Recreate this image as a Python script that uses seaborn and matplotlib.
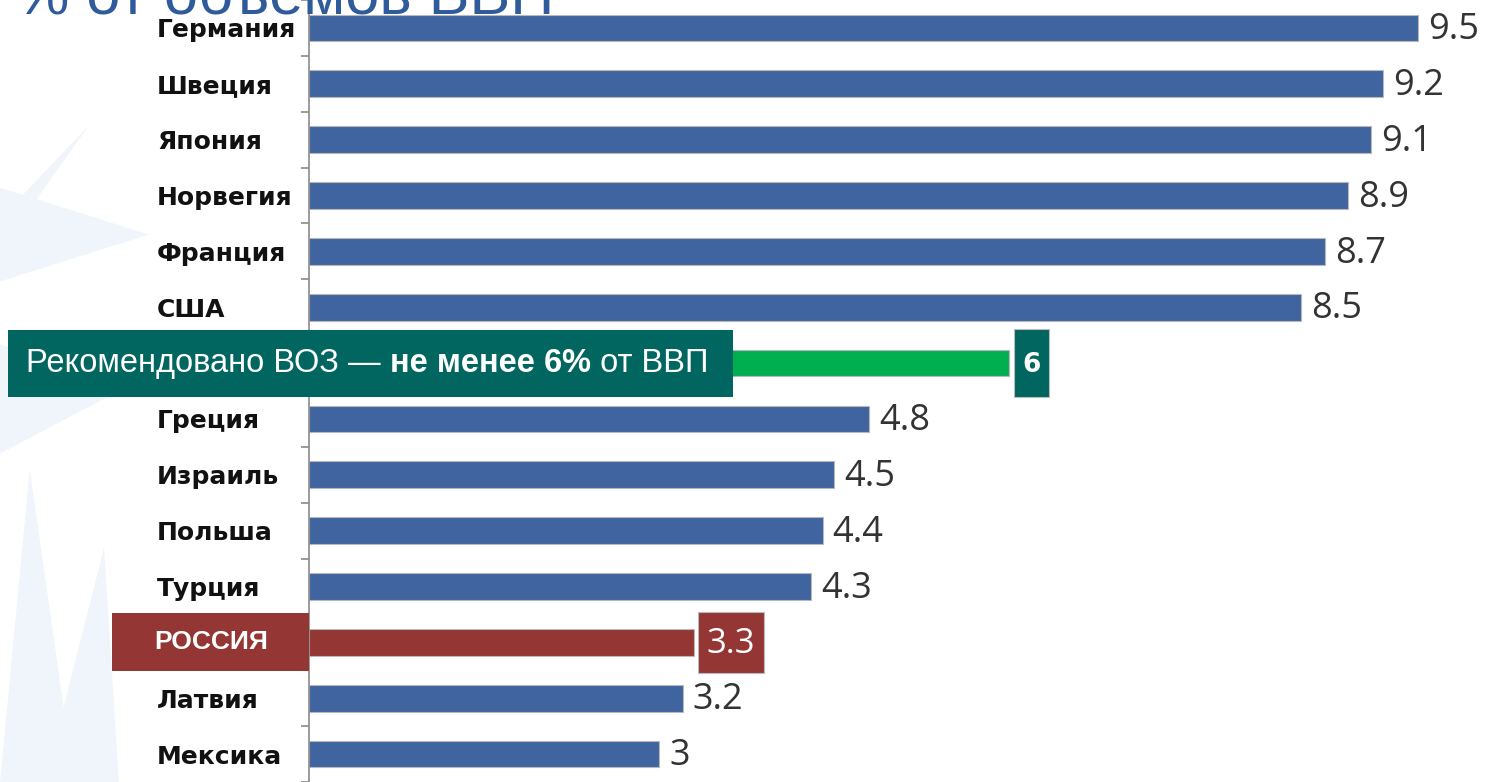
import numpy as np
import pandas as pd
import matplotlib
matplotlib.use('Agg')
import matplotlib.pyplot as plt
from matplotlib.patches import Rectangle, Polygon
import seaborn as sns

# data
countries = ['Германия', 'Швеция', 'Япония', 'Норвегия', 'Франция', 'США',
             'Рекомендовано ВОЗ', 'Греция', 'Израиль', 'Польша', 'Турция',
             'РОССИЯ', 'Латвия', 'Мексика']
values = [9.5, 9.2, 9.1, 8.9, 8.7, 8.5, 6, 4.8, 4.5, 4.4, 4.3, 3.3, 3.2, 3]
value_labels = ['9.5', '9.2', '9.1', '8.9', '8.7', '8.5', '6', '4.8', '4.5',
                '4.4', '4.3', '3.3', '3.2', '3']
title = '% от объемов ВВП'
who_parts = ['Рекомендовано ВОЗ — ', 'не менее 6%', ' от ВВП']

BLUE = '#3f64a0'
GREEN = '#00b050'
RED = '#943634'
TEAL = '#00665f'

colors = []
for c in countries:
    if c == 'РОССИЯ':
        colors.append(RED)
    elif c.startswith('Рекомендовано'):
        colors.append(GREEN)
    else:
        colors.append(BLUE)

df = pd.DataFrame({'country': countries, 'value': values})

sns.set_style('white')
plt.rcParams['font.family'] = ['DejaVu Sans']

fig = plt.figure(figsize=(14.87, 7.82), dpi=100)
fig.patch.set_facecolor('white')

# very faint starburst in the background on the left
rays = [
    [(0.0, 0.64), (0.10, 0.70), (0.0, 0.76)],
    [(0.0, 0.72), (0.06, 0.84), (0.015, 0.72)],
    [(0.0, 0.42), (0.08, 0.50), (0.0, 0.56)],
    [(0.0, 0.0), (0.02, 0.40), (0.05, 0.0)],
    [(0.03, 0.0), (0.07, 0.30), (0.08, 0.0)],
]
for r in rays:
    fig.patches.append(Polygon(r, closed=True, transform=fig.transFigure,
                               facecolor='#f0f5fb', edgecolor='none', zorder=-1))

ax = fig.add_axes([309 / 1487, 0, 1 - 309 / 1487, 1])
ax.set_facecolor('none')

sns.barplot(data=df, x='value', y='country', hue='country', palette=colors,
            legend=False, orient='h', width=0.48, saturation=1,
            edgecolor='#b8b8b8', linewidth=0.8, ax=ax)

ax.set_xlim(0, 10.09)
ax.set_ylim(13.48, -0.445)
ax.set_xlabel('')
ax.set_ylabel('')
ax.set_xticks([])

for s in ['top', 'right', 'bottom']:
    ax.spines[s].set_visible(False)
ax.spines['left'].set_color('#8a8a8a')
ax.spines['left'].set_linewidth(1.2)

# the two highlighted rows get their own label boxes below
tick_text = ['' if (c == 'РОССИЯ' or c.startswith('Рекомендовано')) else c
             for c in countries]
ax.set_yticks(range(len(countries)))
ax.set_yticklabels(tick_text)
ax.set_yticks(np.arange(-0.5, len(countries)), minor=True)
ax.tick_params(axis='y', which='major', length=0, pad=109.4, labelsize=18)
ax.tick_params(axis='y', which='minor', length=6, width=1.2, color='#8a8a8a', left=True)
for lab in ax.get_yticklabels():
    lab.set_horizontalalignment('left')
    lab.set_fontweight('bold')
    lab.set_color('#111111')

# value labels
for i, (v, lab) in enumerate(zip(values, value_labels)):
    if countries[i] == 'РОССИЯ':
        ax.add_patch(Rectangle((v + 0.03, i - 0.55), 0.57, 1.1, facecolor=RED,
                               edgecolor='#bbbbbb', lw=0.8, zorder=5))
        ax.text(v + 0.315, i + 0.03, lab, ha='center', va='center', color='white',
                fontsize=25, family='Open Sans', zorder=6)
    elif countries[i].startswith('Рекомендовано'):
        ax.add_patch(Rectangle((v + 0.035, i - 0.61), 0.3, 1.22, facecolor=TEAL,
                               edgecolor='#bbbbbb', lw=0.8, zorder=5, clip_on=False))
        ax.text(v + 0.185, i + 0.03, lab, ha='center', va='center', color='white',
                fontsize=19, fontweight='bold', zorder=6)
    else:
        ax.text(v + 0.085, i + 0.04, lab, ha='left', va='center', color='#333333',
                fontsize=26, family='Open Sans')

narrow = ['Liberation Sans Narrow', 'Liberation Sans', 'DejaVu Sans']

# Russia label box
ir = countries.index('РОССИЯ')
ax.add_patch(Rectangle((-1.69, ir - 0.52), 1.69, 1.04, facecolor=RED,
                       edgecolor='none', clip_on=False, zorder=10))
ax.text(-0.84, ir, countries[ir], ha='center', va='center', color='white',
        fontsize=19, fontweight='bold', family=narrow, zorder=11, clip_on=False)

# WHO label box
iw = [c.startswith('Рекомендовано') for c in countries].index(True)
ax.add_patch(Rectangle((-2.58, iw - 0.6), 6.21, 1.2, facecolor=TEAL,
                       edgecolor='none', clip_on=False, zorder=10))
t1 = ax.text(-2.42, iw, who_parts[0], ha='left', va='center', color='white',
             fontsize=23.5, family=narrow, zorder=11, clip_on=False)
t2 = ax.annotate(who_parts[1], xy=(1, 0), xycoords=t1, va='bottom', ha='left',
                 color='white', fontsize=23.5, fontweight='bold', family=narrow,
                 zorder=11, annotation_clip=False)
t3 = ax.annotate(who_parts[2], xy=(1, 0), xycoords=t2, va='bottom', ha='left',
                 color='white', fontsize=23.5, family=narrow, zorder=11,
                 annotation_clip=False)

# title, cut at the top edge
fig.text(15 / 1487, 1 - 13 / 782, title, ha='left', va='baseline',
         color='#2f5b9b', fontsize=44, family='Liberation Sans', zorder=20)

fig.savefig('out.png', dpi=100, facecolor='white')
